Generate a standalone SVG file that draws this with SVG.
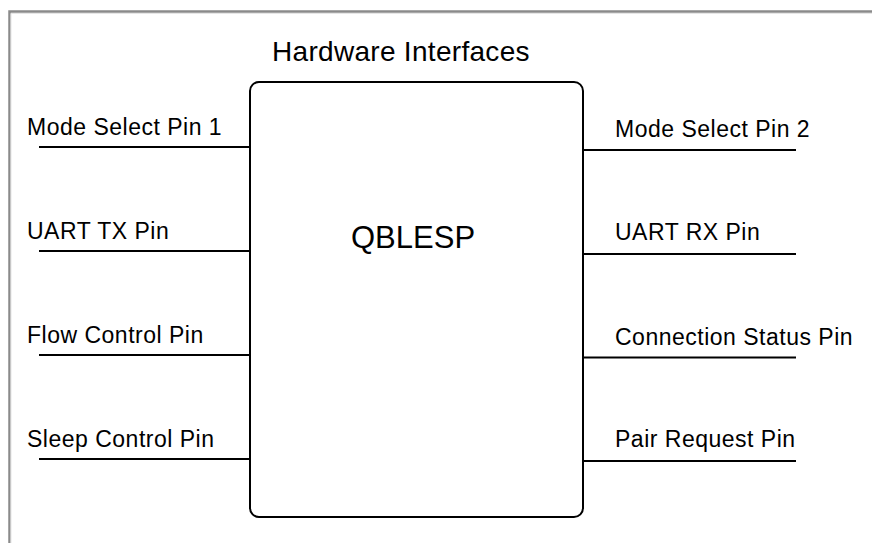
<svg xmlns="http://www.w3.org/2000/svg" width="872" height="543" viewBox="0 0 872 543">
<style>
text{font-family:"Liberation Sans",Arial,sans-serif;fill:#000}
.lbl{font-size:23px;letter-spacing:0.5px}
.pin{stroke:#000;stroke-width:2;fill:none}
</style>
<rect x="0" y="0" width="872" height="543" fill="#fff"/>
<path d="M9.5 543 V11.5 H872" fill="none" stroke="#8a8a8a" stroke-width="2.5"/>
<path d="M11 545 V13.5 H872" fill="none" stroke="#e6e6e6" stroke-width="1"/>
<text id="title" x="272" y="61" style="font-size:28px;letter-spacing:0.3px">Hardware Interfaces</text>
<g id="qblesp">
<rect x="250" y="82" width="333" height="435" rx="9" ry="9" fill="#fff" stroke="#000" stroke-width="2"/>
<text x="351" y="248" style="font-size:31px">QBLESP</text>
</g>
<g id="connectors">
<line class="pin" x1="39" y1="147" x2="250" y2="147"/>
<line class="pin" x1="39" y1="251" x2="250" y2="251"/>
<line class="pin" x1="39" y1="355" x2="250" y2="355"/>
<line class="pin" x1="39" y1="459" x2="250" y2="459"/>
<line class="pin" x1="583" y1="150" x2="796" y2="150"/>
<line class="pin" x1="583" y1="254" x2="796" y2="254"/>
<line class="pin" x1="583" y1="357.5" x2="796" y2="357.5"/>
<line class="pin" x1="583" y1="461" x2="796" y2="461"/>
</g>
<g id="pin-mode1"><text class="lbl" x="27" y="135">Mode Select Pin 1</text></g>
<g id="pin-uarttx"><text class="lbl" x="27" y="239">UART TX Pin</text></g>
<g id="pin-flow"><text class="lbl" x="27" y="343">Flow Control Pin</text></g>
<g id="pin-sleep"><text class="lbl" x="27" y="447">Sleep Control Pin</text></g>
<g id="pin-mode2"><text class="lbl" x="615" y="137">Mode Select Pin 2</text></g>
<g id="pin-uartrx"><text class="lbl" x="615" y="240">UART RX Pin</text></g>
<g id="pin-conn"><text class="lbl" x="615" y="345">Connection Status Pin</text></g>
<g id="pin-pair"><text class="lbl" x="615" y="447">Pair Request Pin</text></g>
</svg>
